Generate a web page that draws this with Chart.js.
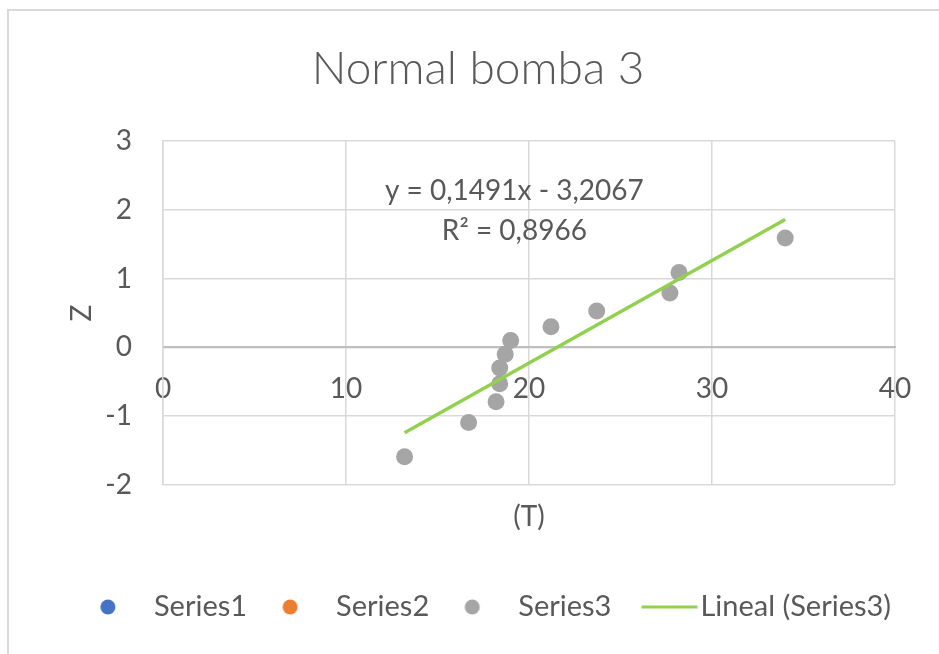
<!DOCTYPE html>
<html>
<head>
<meta charset="utf-8">
<script src="https://cdn.jsdelivr.net/npm/chart.js@4.4.0/dist/chart.umd.min.js"></script>
<style>
    html, body { margin: 0; padding: 0; background: #fff; overflow: hidden; }
    #frame { position: absolute; left: 7px; top: 9px; width: 1000px; height: 700px;
             border-left: 2px solid #d9d9d9; border-top: 2px solid #d9d9d9; }
    #wrap { position: absolute; left: 0; top: 0; width: 939px; height: 654px; }
</style>
</head>
<body>
<div id="frame"></div>
<div id="wrap"><canvas id="plot_normal"></canvas></div>
<script>
// T values and their normal scores (Series3)
const tValues = [13.2, 16.7, 18.2, 18.4, 18.4, 18.7, 19.0, 21.2, 23.7, 27.7, 28.2, 34.0];
const zValues = [-1.59, -1.09, -0.79, -0.53, -0.30, -0.10, 0.10, 0.30, 0.53, 0.79, 1.09, 1.59];

// ends of the linear trendline
const trendT = [13.2, 34.0];
const trendZ = [-1.24, 1.86];

const legendNames = ["Series1", "Series2", "Series3", "Lineal (Series3)"];
const equationLines = ["y = 0,1491x - 3,2067", "R\u00b2 = 0,8966"];

const xTicks = [0, 10, 20, 30, 40];
const yTicks = [-2, -1, 0, 1, 2, 3];

const textColor = '#595959';
const gridColor = '#d9d9d9';
const fontFamily = 'Lato, "Open Sans", sans-serif';

// legend marker images, shifted sideways from the box centre by `shift`
function dotMarker(color, shift) {
    let c = document.createElement('canvas');
    c.width = Math.ceil(2 * (Math.abs(shift) + 9));
    c.height = 18;
    let g = c.getContext('2d');
    g.fillStyle = color;
    g.beginPath();
    g.arc(c.width / 2 + shift, 9, 7.5, 0, Math.PI * 2);
    g.fill();
    return c;
}

function lineMarker(color, shift, len) {
    let c = document.createElement('canvas');
    c.width = Math.ceil(2 * (Math.abs(shift) + len / 2 + 1));
    c.height = 6;
    let g = c.getContext('2d');
    g.fillStyle = color;
    g.fillRect(c.width / 2 + shift - len / 2, 1.5, len, 3);
    return c;
}

const markers = [
    dotMarker('#4472c4', 5.75),
    dotMarker('#ed7d31', 5.75),
    dotMarker('#a5a5a5', 5.75),
    lineMarker('#92d050', 20.75, 56)
];

const trendLabel = {
    id: 'trendLabel',
    afterDatasetsDraw(chart, args, opts) {
        let ctx = chart.ctx;
        let px = chart.scales.x.getPixelForValue(opts.at[0]);
        let py = chart.scales.y.getPixelForValue(opts.at[1]);
        ctx.save();
        ctx.font = '28px ' + fontFamily;
        ctx.fillStyle = textColor;
        ctx.textAlign = 'center';
        ctx.textBaseline = 'middle';
        opts.lines.forEach((line, i) => ctx.fillText(line, px, py + i * 40));
        ctx.restore();
    }
};

window.onload = function() {
    let ctx = document.getElementById('plot_normal').getContext('2d');
    let plot_normal = new Chart(ctx, {
        type: 'scatter',
        data: {
            datasets: [{
                label: legendNames[3],
                data: trendT.map((t, i) => ({x: t, y: trendZ[i]})),
                showLine: true,
                borderColor: '#92d050',
                borderWidth: 3.5,
                pointRadius: 0,
                order: 0,
                xAxisID: 'x',
                yAxisID: 'y'
            }, {
                label: legendNames[0],
                data: [],
                backgroundColor: '#4472c4',
                order: 1,
                xAxisID: 'x',
                yAxisID: 'y'
            }, {
                label: legendNames[1],
                data: [],
                backgroundColor: '#ed7d31',
                order: 1,
                xAxisID: 'x',
                yAxisID: 'y'
            }, {
                label: legendNames[2],
                data: tValues.map((t, i) => ({x: t, y: zValues[i]})),
                backgroundColor: '#a5a5a5',
                borderWidth: 0,
                pointRadius: 8.5,
                order: 1,
                xAxisID: 'x',
                yAxisID: 'y'
            }]
        },
        options: {
            responsive: true,
            maintainAspectRatio: false,
            animation: false,
            layout: {
                padding: {left: 61, right: 44, top: 0, bottom: 22.5}
            },
            plugins: {
                title: {
                    display: true,
                    text: 'Normal bomba 3',
                    color: textColor,
                    font: {family: fontFamily, size: 46, weight: 300},
                    padding: {top: 41.4, bottom: 44.4}
                },
                legend: {
                    position: 'bottom',
                    labels: {
                        usePointStyle: true,
                        pointStyleWidth: 74.5,
                        padding: 0,
                        color: textColor,
                        font: {family: fontFamily, size: 29},
                        generateLabels: function() {
                            return legendNames.map((name, i) => ({
                                text: name,
                                pointStyle: markers[i],
                                fillStyle: 'transparent',
                                strokeStyle: 'transparent',
                                lineWidth: 0,
                                hidden: false,
                                fontColor: textColor
                            }));
                        }
                    }
                },
                tooltip: {enabled: false},
                trendLabel: {
                    at: [19.2, 2.27],
                    lines: equationLines
                }
            },
            scales: {
                x: {
                    type: 'linear',
                    position: 'bottom',
                    min: xTicks[0],
                    max: xTicks[xTicks.length - 1],
                    ticks: {display: false, stepSize: 10},
                    grid: {color: gridColor, lineWidth: 1.5, drawTicks: false},
                    border: {display: false},
                    title: {
                        display: true,
                        text: '(T)',
                        color: textColor,
                        font: {family: fontFamily, size: 28},
                        padding: {top: 0, bottom: 58.7}
                    },
                    afterFit: function(scale) { scale.height = 107.5; }
                },
                x2: {
                    type: 'linear',
                    position: {y: 0},
                    min: xTicks[0],
                    max: xTicks[xTicks.length - 1],
                    ticks: {
                        stepSize: 10,
                        color: textColor,
                        font: {family: fontFamily, size: 28},
                        padding: 25
                    },
                    grid: {drawOnChartArea: false, drawTicks: false},
                    border: {color: '#bfbfbf', width: 2}
                },
                y: {
                    type: 'linear',
                    position: 'left',
                    min: yTicks[0],
                    max: yTicks[yTicks.length - 1],
                    ticks: {
                        stepSize: 1,
                        color: textColor,
                        font: {family: fontFamily, size: 28},
                        padding: 31
                    },
                    grid: {color: gridColor, lineWidth: 1.5, drawTicks: false},
                    border: {color: gridColor, width: 1.5},
                    title: {
                        display: true,
                        text: 'Z',
                        color: textColor,
                        font: {family: fontFamily, size: 28},
                        padding: {top: 4, bottom: 0}
                    },
                    afterFit: function(scale) { scale.width = 102; }
                }
            }
        },
        plugins: [trendLabel]
    });
}
</script>
</body>
</html>
